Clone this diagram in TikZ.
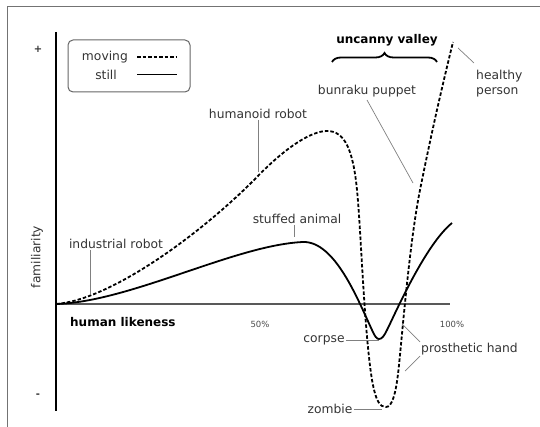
\documentclass[tikz,border=0pt]{standalone}
\usepackage{fontspec}
\setmainfont{DejaVu Sans}
\usepackage{tikz}
\usetikzlibrary{decorations.pathreplacing}

\begin{document}
\begin{tikzpicture}[x=1pt, y=-1pt, font=\fontsize{12.3}{15}\selectfont]
                \tikzstyle{label} = [text=black!80, inner sep=1pt]
                \tikzstyle{small} = [text=black!70, inner sep=1pt, font=\fontsize{8.5}{10}\selectfont]
                \tikzstyle{heading} = [inner sep=1pt, font=\fontsize{12}{14}\selectfont\bfseries]
                \tikzstyle{leader} = [black!50, line width=0.7pt]
                \tikzstyle{still} = [line width=1.8pt, line join=round]
                \tikzstyle{moving} = [line width=1.8pt, dash pattern=on 3.5pt off 2pt]

                \useasboundingbox (0,0) rectangle (540,427);
                \draw [black!55, line width=1pt] (7,427) -- (7,7) -- (540,7);

                % axes
                \draw [line width=1.8pt] (56,32) -- (56,411);
                \draw [black!65, line width=1.5pt] (56,304) -- (450,304);
                \node (plus) [label, font=\bfseries] at (38,49) {+};
                \node (minus) [label, font=\bfseries] at (38,396) {-};
                \node (familiarity) [label, rotate=90] at (37,257) {familiarity};
                \node (likeness) [heading, anchor=west] at (69,322) {human likeness};
                \node (half) [small] at (260,324) {50\%};
                \node (full) [small] at (452,324) {100\%};

                % legend
                \node (legend) [draw=black!60, line width=1pt, rounded corners=5pt, minimum width=122, minimum height=52] at (129,66) {};
                \node (movtext) [label, anchor=east] at (129,57) {moving};
                \node (stilltext) [label, anchor=east] at (118,75) {still};
                \coordinate (mova) at (137,57);
                \coordinate (movb) at (177,57);
                \coordinate (stilla) at (137,75);
                \coordinate (stillb) at (177,75);
                \draw [moving] (mova) -- (movb);
                \draw [line width=1pt] (stilla) -- (stillb);

                % curves
                \draw [moving] (56,304) .. controls (110,300) and (200,235) .. (257,177)
                    .. controls (287,146) and (312,131) .. (327,131)
                    .. controls (345,131) and (353,150) .. (357,190)
                    .. controls (361,230) and (364,330) .. (372,380)
                    .. controls (376,402) and (380,407) .. (386,407)
                    .. controls (392,407) and (396,395) .. (399,365)
                    .. controls (403,325) and (410,240) .. (420,190)
                    .. controls (430,140) and (440,95) .. (453,42);
                \draw [still] (56,304) .. controls (130,302) and (235,245) .. (303,242)
                    .. controls (335,241) and (358,300) .. (372,330)
                    .. controls (375,337) and (377,339) .. (379,339)
                    .. controls (382,339) and (384,336) .. (387,330)
                    .. controls (395,314) and (425,245) .. (452,223);

                % labels
                \node (humanoid) [label] at (258,114) {humanoid robot};
                \node (industrial) [label] at (116,244) {industrial robot};
                \node (stuffed) [label] at (297,219) {stuffed animal};
                \node (bunraku) [label] at (367,91) {bunraku puppet};
                \node (valley) [heading] at (387,40) {uncanny valley};
                \node (healthy) [label, align=left, anchor=west] at (475,84) {healthy\\person};
                \node (corpse) [label] at (324,340) {corpse};
                \node (prosthetic) [label, anchor=west] at (420,349) {prosthetic hand};
                \node (zombie) [label] at (330,409) {zombie};

                \coordinate (humanoidend) at (258,172);
                \coordinate (industrialend) at (90,294);
                \coordinate (stuffedend) at (294,237);
                \coordinate (bunrakustart) at (367,100);
                \coordinate (bunrakuend) at (413,183);
                \coordinate (healthystart) at (458,48);
                \coordinate (healthyend) at (474,63);
                \coordinate (corpseend) at (379,340);
                \coordinate (handup) at (402,324);
                \coordinate (handdown) at (405,371);
                \coordinate (zombieend) at (382,409);
                \coordinate (bracea) at (332,62);
                \coordinate (braceb) at (437,62);

                \draw [leader] (humanoid) -- (humanoidend);
                \draw [leader] (industrial.south -| industrialend) -- (industrialend);
                \draw [leader] (stuffed.south -| stuffedend) -- (stuffedend);
                \draw [leader] (bunrakustart) -- (bunrakuend);
                \draw [leader] (healthystart) -- (healthyend);
                \draw [leader] (corpse) -- (corpseend);
                \draw [leader] (prosthetic.north west) -- (handup);
                \draw [leader] (prosthetic.south west) -- (handdown);
                \draw [leader] (zombie) -- (zombieend);
                \draw [line width=1.8pt, decorate, decoration={brace, amplitude=9pt}] (bracea) -- (braceb);
            \end{tikzpicture}
\end{document}
